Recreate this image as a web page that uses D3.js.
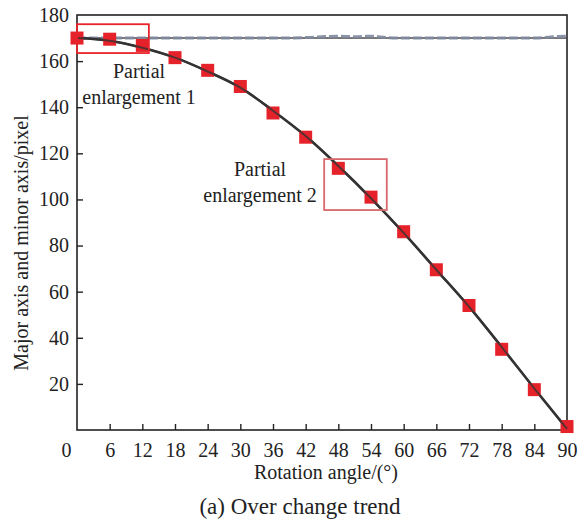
<!DOCTYPE html>
<html>
<head>
<meta charset="utf-8">
<script src="https://cdn.jsdelivr.net/npm/d3@7"></script>
<style>
  body { margin: 0; background: #fff; }
  text { font-family: 'Liberation Serif', serif; }
</style>
</head>
<body>
<div id="chart"></div>
<script>
// angles des carrés rouges (major axis)
const angles = [0, 6, 12, 18, 24, 30, 36, 42, 48, 54, 60, 66, 72, 78, 84, 90];
const majorValues = [170, 169.5, 166.8, 161.5, 156, 149, 137.5, 127, 113.5, 101, 86, 69.5, 54, 35, 17.5, 1.5];

// courbe ajustée
const fitAngles = [0, 6, 12, 18, 24, 30, 36, 42, 48, 54, 60, 66, 72, 78, 84, 90];
const fitValues = [170, 168.8, 165.8, 161.5, 155.5, 148.5, 138.5, 127.5, 114.5, 100.5, 85.5, 69.5, 53.5, 36, 18, 0.5];

// minor axis (ligne horizontale pointillée)
const minorAngles = [0, 6, 12, 18, 24, 30, 36, 42, 45, 48, 51, 54, 57, 60, 66, 72, 78, 84, 87, 90];
const minorValues = [170, 170, 170, 170, 170, 170, 170, 170.2, 170.6, 170.8, 170.6, 170.8, 170.2, 170, 170, 170, 170, 170, 170.5, 170.8];

const xTicks = [0, 6, 12, 18, 24, 30, 36, 42, 48, 54, 60, 66, 72, 78, 84, 90];
const yTicks = [20, 40, 60, 80, 100, 120, 140, 160, 180];

const FONT = "'Liberation Serif', serif";
const W = 588, H = 520;
const m = {left: 77, right: 21, top: 15, bottom: 90};

const svg = d3.select("#chart").append("svg")
    .attr("width", W).attr("height", H);

const x = d3.scaleLinear().domain([0, 90]).range([m.left, W - m.right]);
const y = d3.scaleLinear().domain([0, 180]).range([H - m.bottom, m.top]);

// cadre
svg.append("rect")
    .attr("x", x(0)).attr("y", y(180))
    .attr("width", x(90) - x(0)).attr("height", y(0) - y(180))
    .attr("fill", "none").attr("stroke", "#222").attr("stroke-width", 1.6);

// axe x (ticks vers l'intérieur)
const xAxis = svg.append("g")
    .attr("transform", `translate(0,${y(0)})`)
    .call(d3.axisBottom(x).tickValues(xTicks).tickSizeInner(-6).tickSizeOuter(0).tickPadding(13));
xAxis.attr("font-family", FONT).attr("font-size", 20);
xAxis.select(".domain").remove();
xAxis.selectAll("line").attr("stroke", "#222").attr("stroke-width", 1.4);
xAxis.selectAll("text").attr("fill", "#222");
xAxis.selectAll(".tick").filter(d => d === 0).select("text").attr("dx", -11);
xAxis.selectAll(".tick").filter(d => d === 0 || d === 90).select("line").remove();

// axe y
const yAxis = svg.append("g")
    .attr("transform", `translate(${x(0)},0)`)
    .call(d3.axisLeft(y).tickValues(yTicks).tickSizeInner(-6).tickSizeOuter(0).tickPadding(8));
yAxis.attr("font-family", FONT).attr("font-size", 20);
yAxis.select(".domain").remove();
yAxis.selectAll("line").attr("stroke", "#222").attr("stroke-width", 1.4);
yAxis.selectAll("text").attr("fill", "#222");
yAxis.selectAll(".tick").filter(d => d === 180).select("line").remove();

// titres
const labels = svg.append("g").attr("font-family", FONT).attr("fill", "#222");
labels.append("text")
    .attr("x", 326).attr("y", 479)
    .attr("text-anchor", "middle").attr("font-size", 20)
    .text("Rotation angle/(°)");
labels.append("text")
    .attr("transform", `translate(28,${243}) rotate(-90)`)
    .attr("text-anchor", "middle").attr("font-size", 20)
    .text("Major axis and minor axis/pixel");
labels.append("text")
    .attr("x", 300).attr("y", 514)
    .attr("text-anchor", "middle").attr("font-size", 23)
    .text("(a)  Over change trend");

// lignes minor axis
const line = d3.line().x(d => x(d[0])).y(d => y(d[1]));
svg.append("path")
    .datum(minorAngles.map((a, i) => [a, 170]))
    .attr("fill", "none").attr("stroke", "#4a4a4a").attr("stroke-width", 1.4)
    .attr("d", line);
svg.append("path")
    .datum(minorAngles.map((a, i) => [a, minorValues[i]]))
    .attr("fill", "none").attr("stroke", "#7f889e").attr("stroke-width", 3)
    .attr("stroke-dasharray", "9,3")
    .attr("opacity", 0.9)
    .attr("d", line.curve(d3.curveMonotoneX));

// courbe ajustée
const fitLine = d3.line().x(d => x(d[0])).y(d => y(d[1])).curve(d3.curveMonotoneX);
svg.append("path")
    .datum(fitAngles.map((a, i) => [a, fitValues[i]]))
    .attr("fill", "none").attr("stroke", "#333").attr("stroke-width", 2.6)
    .attr("d", fitLine);

// carrés rouges
const s = 13;
svg.append("g").selectAll("rect")
    .data(angles.map((a, i) => [a, majorValues[i]]))
    .join("rect")
    .attr("x", d => x(d[0]) - s / 2).attr("y", d => y(d[1]) - s / 2)
    .attr("width", s).attr("height", s)
    .attr("fill", "#e5222a");

// redessiner la courbe par-dessus les carrés (comme dans l'original)
svg.append("path")
    .datum(fitAngles.map((a, i) => [a, fitValues[i]]))
    .attr("fill", "none").attr("stroke", "#333").attr("stroke-width", 2).attr("opacity", 0.8)
    .attr("d", fitLine);

// boîtes d'agrandissement
svg.append("rect")
    .attr("x", x(0)).attr("y", y(176))
    .attr("width", x(13.2) - x(0)).attr("height", y(163.5) - y(176))
    .attr("fill", "none").attr("stroke", "#e8232b").attr("stroke-width", 1.8);
svg.append("rect")
    .attr("x", x(45.4)).attr("y", y(117.5))
    .attr("width", x(56.9) - x(45.4)).attr("height", y(95.4) - y(117.5))
    .attr("fill", "none").attr("stroke", "#d9686c").attr("stroke-width", 1.8);

// annotations
const ann = [
    {lines: ["Partial", "enlargement 1"], cx: 139, cy: 78},
    {lines: ["Partial", "enlargement 2"], cx: 260, cy: 176}
];
ann.forEach(a => {
    a.lines.forEach((t, j) => {
        labels.append("text")
            .attr("x", a.cx).attr("y", a.cy + j * 26)
            .attr("text-anchor", "middle").attr("font-size", 20)
            .text(t);
    });
});
</script>
</body>
</html>
